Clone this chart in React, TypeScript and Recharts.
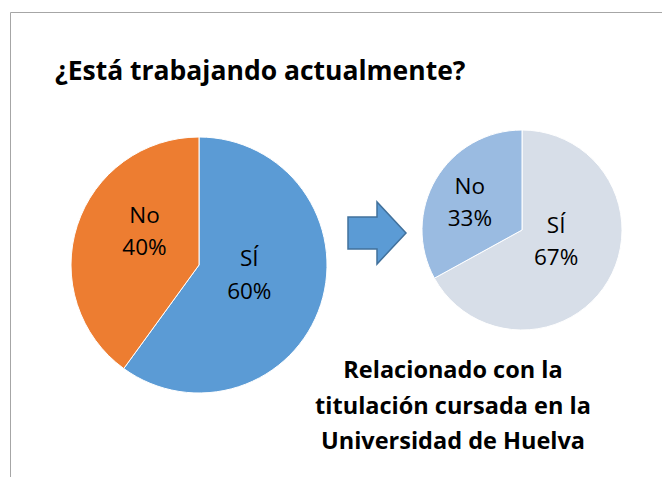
import React from "react";
import { PieChart, Pie, Cell } from "recharts";

const categories = ["SÍ", "No"];
const workingValues = [60, 40];
const relatedValues = [67, 33];
const titleText = "¿Está trabajando actualmente?";
const noteLines = ["Relacionado con la", "titulación cursada en la", "Universidad de Huelva"];

const workingColors = ["#5B9BD5", "#ED7D31"];
const relatedColors = ["#D7DEE8", "#9ABBE1"];

const workingData = categories.map((name, i) => ({ name, value: workingValues[i] }));
const relatedData = categories.map((name, i) => ({ name, value: relatedValues[i] }));

const W = 662;
const H = 477;
const FONT = "'Open Sans', 'Noto Sans', sans-serif";

// label placement (polar, fraction of radius, degrees) for each slice
const workingLabelPos = [
  { frac: 0.4, angle: -10.7 },
  { frac: 0.5, angle: 148.4 },
];
const relatedLabelPos = [
  { frac: 0.36, angle: -18.4 },
  { frac: 0.59, angle: 152.1 },
];

const makeLabel = (layout: { frac: number; angle: number }[]) => (props: any) => {
  const { cx, cy, outerRadius, index, name, percent } = props;
  const p = layout[index];
  const rad = (p.angle * Math.PI) / 180;
  const x = cx + p.frac * outerRadius * Math.cos(rad);
  const y = cy - p.frac * outerRadius * Math.sin(rad);
  return (
    <text
      x={x}
      y={y}
      textAnchor="middle"
      fontFamily={FONT}
      fontSize={22.5}
      fill="#000"
    >
      <tspan x={x} y={y - 8.5}>{name}</tspan>
      <tspan x={x} y={y + 24}>{`${Math.round(percent * 100)}%`}</tspan>
    </text>
  );
};

export default function App() {
  return (
    <div style={{ position: "absolute", left: 0, top: 0, width: W, height: H, background: "#fff" }}>
      <PieChart width={W} height={H} margin={{ top: 0, right: 0, bottom: 0, left: 0 }}>
        <Pie
          data={workingData}
          dataKey="value"
          nameKey="name"
          cx={199}
          cy={265}
          outerRadius={128}
          startAngle={90}
          endAngle={-270}
          stroke="#ffffff"
          strokeWidth={1}
          isAnimationActive={false}
          labelLine={false}
          label={makeLabel(workingLabelPos)}
        >
          {workingData.map((d, i) => (
            <Cell key={d.name} fill={workingColors[i]} />
          ))}
        </Pie>
        <Pie
          data={relatedData}
          dataKey="value"
          nameKey="name"
          cx={522}
          cy={230}
          outerRadius={100}
          startAngle={90}
          endAngle={-270}
          stroke="#ffffff"
          strokeWidth={1}
          isAnimationActive={false}
          labelLine={false}
          label={makeLabel(relatedLabelPos)}
        >
          {relatedData.map((d, i) => (
            <Cell key={d.name} fill={relatedColors[i]} />
          ))}
        </Pie>
      </PieChart>
      <svg
        width={W}
        height={H}
        style={{ position: "absolute", left: 0, top: 0, pointerEvents: "none" }}
      >
        <line x1={10.5} y1={12.5} x2={W} y2={12.5} stroke="#A6A6A6" strokeWidth={1} />
        <line x1={10.5} y1={12.5} x2={10.5} y2={H} stroke="#A6A6A6" strokeWidth={1} />
        <text x={55} y={80} fontFamily={FONT} fontWeight={700} fontSize={26.5} fill="#000">
          {titleText}
        </text>
        <polygon
          points="348,217 377,217 377,202 406,233 377,264 377,249 348,249"
          fill="#5B9BD5"
          stroke="#41719C"
          strokeWidth={1.5}
          strokeLinejoin="miter"
        />
        {noteLines.map((t, i) => (
          <text
            key={t}
            x={453}
            y={378 + i * 35.5}
            textAnchor="middle"
            fontFamily={FONT}
            fontWeight={700}
            fontSize={23.5}
            fill="#000"
          >
            {t}
          </text>
        ))}
      </svg>
    </div>
  );
}
